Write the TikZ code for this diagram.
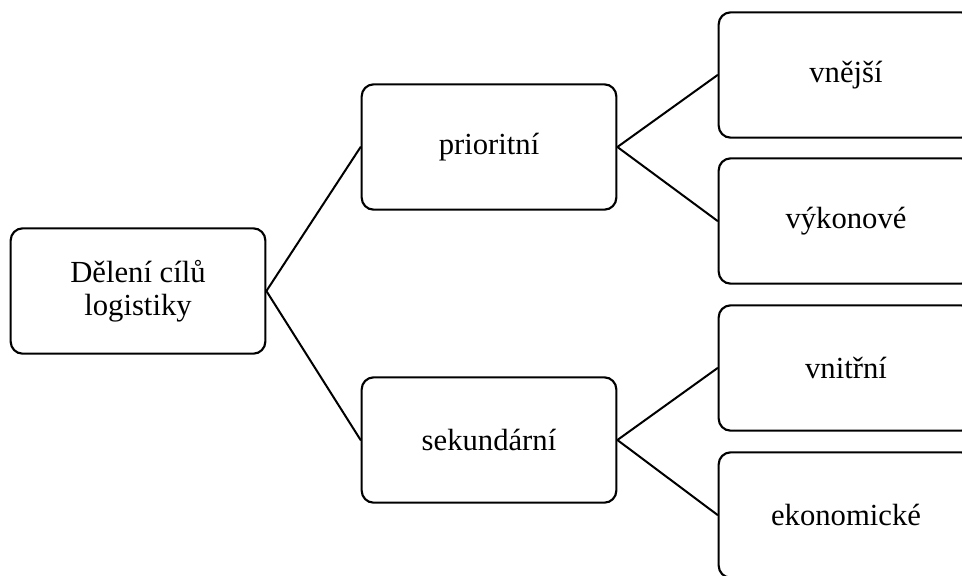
\documentclass[tikz,border=0pt]{standalone}
\usepackage{fontspec}
\setmainfont{Liberation Serif}
\begin{document}
\begin{tikzpicture}[x=0.75pt, y=-0.75pt, line join=round, line cap=round,
	font=\fontsize{23}{25}\selectfont,
	goal/.style={draw, line width=1.6pt, rounded corners=9pt, minimum width=191pt, minimum height=94pt, align=center, inner sep=0pt},
	link/.style={line width=1.5pt}]
		\useasboundingbox (0,0) rectangle (962,575);
		\clip (0,0) rectangle (962,575);
		\node[goal] (root) at (138,291) {Dělení cílů\\logistiky};
		\node[goal] (prior) at (489,147) {prioritní};
		\node[goal] (sek) at (489,440) {sekundární};
		\node[goal] (vnejsi) at (846,75) {vnější};
		\node[goal] (vykon) at (846,221) {výkonové};
		\node[goal] (vnitrni) at (846,368) {vnitřní};
		\node[goal] (ekon) at (846,515) {ekonomické};
		\draw[link] (root.east)--(prior.west) (root.east)--(sek.west);
		\draw[link] (prior.east)--(vnejsi.west) (prior.east)--(vykon.west);
		\draw[link] (sek.east)--(vnitrni.west) (sek.east)--(ekon.west);
		\end{tikzpicture}
\end{document}
